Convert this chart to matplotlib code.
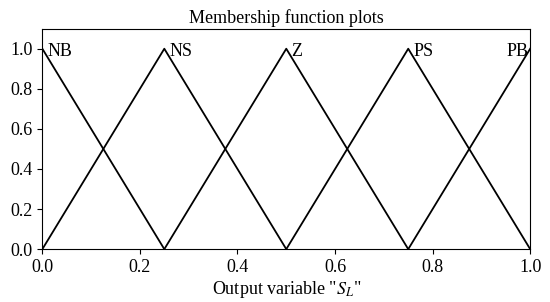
import matplotlib.pyplot as plt
import numpy as np

plt.rcParams['font.family'] = ['Liberation Serif', 'DejaVu Serif']
plt.rcParams['mathtext.fontset'] = 'stix'

# membership functions (triangles): name, breakpoints
names = ['NB', 'NS', 'Z', 'PS', 'PB']
peaks = [0.0, 0.25, 0.5, 0.75, 1.0]
xs = [[0.0, 0.25], [0.0, 0.25, 0.5], [0.25, 0.5, 0.75], [0.5, 0.75, 1.0], [0.75, 1.0]]
ys = [[1.0, 0.0], [0.0, 1.0, 0.0], [0.0, 1.0, 0.0], [0.0, 1.0, 0.0], [0.0, 1.0]]

fig, ax = plt.subplots(figsize=(5.5, 3.02), dpi=100)
fig.subplots_adjust(left=0.077, right=0.964, top=0.905, bottom=0.175)

fs = 13
for name, pk, x, y in zip(names, peaks, xs, ys):
    ax.plot(x, y, color='black', lw=1.3)
    if name == 'PB':
        ax.text(pk - 0.004, 0.985, name, ha='right', va='center', fontsize=fs)
    else:
        ax.text(pk + 0.01, 0.985, name, ha='left', va='center', fontsize=fs)

ax.set_xlim(0, 1)
ax.set_ylim(0, 1.1)
ax.set_xticks(np.arange(0, 1.01, 0.2))
ax.set_yticks(np.arange(0, 1.01, 0.2))
ax.tick_params(labelsize=fs)
ax.set_title('Membership function plots', fontsize=fs, pad=4)
ax.set_xlabel('Output variable "$S_L$"', fontsize=fs, labelpad=2)

fig.savefig('out.png', dpi=100)
